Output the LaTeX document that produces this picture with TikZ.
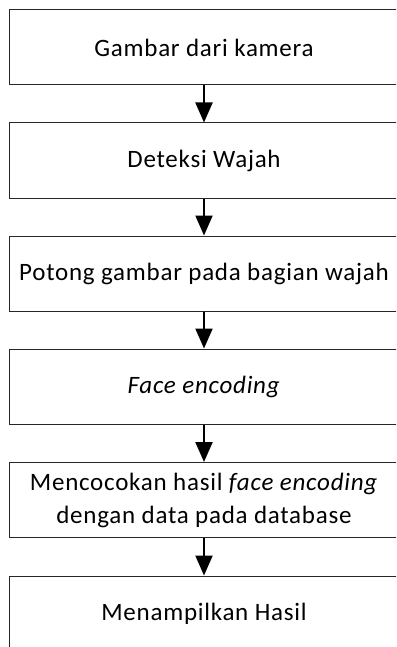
\documentclass[tikz,border=0pt]{standalone}
\usepackage{fontspec}
\setmainfont{Carlito}[LetterSpace=3.0]
\usetikzlibrary{arrows.meta}
\begin{document}
\begin{tikzpicture}[x=1pt,y=1pt,
  stepbox/.style={draw=black!85, line width=1pt, minimum width=390pt, minimum height=75pt,
    inner sep=0pt, align=center, font=\fontsize{25}{33}\selectfont},
  flow/.style={line width=2.2pt, -{Triangle[length=20pt,width=17pt]}}]
\useasboundingbox (0,0) rectangle (396,-647);
\clip (0,0) rectangle (396,-647);
\node[stepbox] (a) at (204,-47.5) {Gambar dari kamera};
\node[stepbox] (b) at (204,-160.5) {Deteksi Wajah};
\node[stepbox] (c) at (204,-273.5) {Potong gambar pada bagian wajah};
\node[stepbox] (d) at (204,-386.5) {\textit{Face encoding}};
\node[stepbox] (e) at (204,-500) {Mencocokan hasil \textit{face encoding}\\dengan data pada database};
\node[stepbox] (f) at (204,-613.5) {Menampilkan Hasil};
\draw[flow] (a.south) -- (b.north);
\draw[flow] (b.south) -- (c.north);
\draw[flow] (c.south) -- (d.north);
\draw[flow] (d.south) -- (e.north);
\draw[flow] (e.south) -- (f.north);
\end{tikzpicture}
\end{document}
